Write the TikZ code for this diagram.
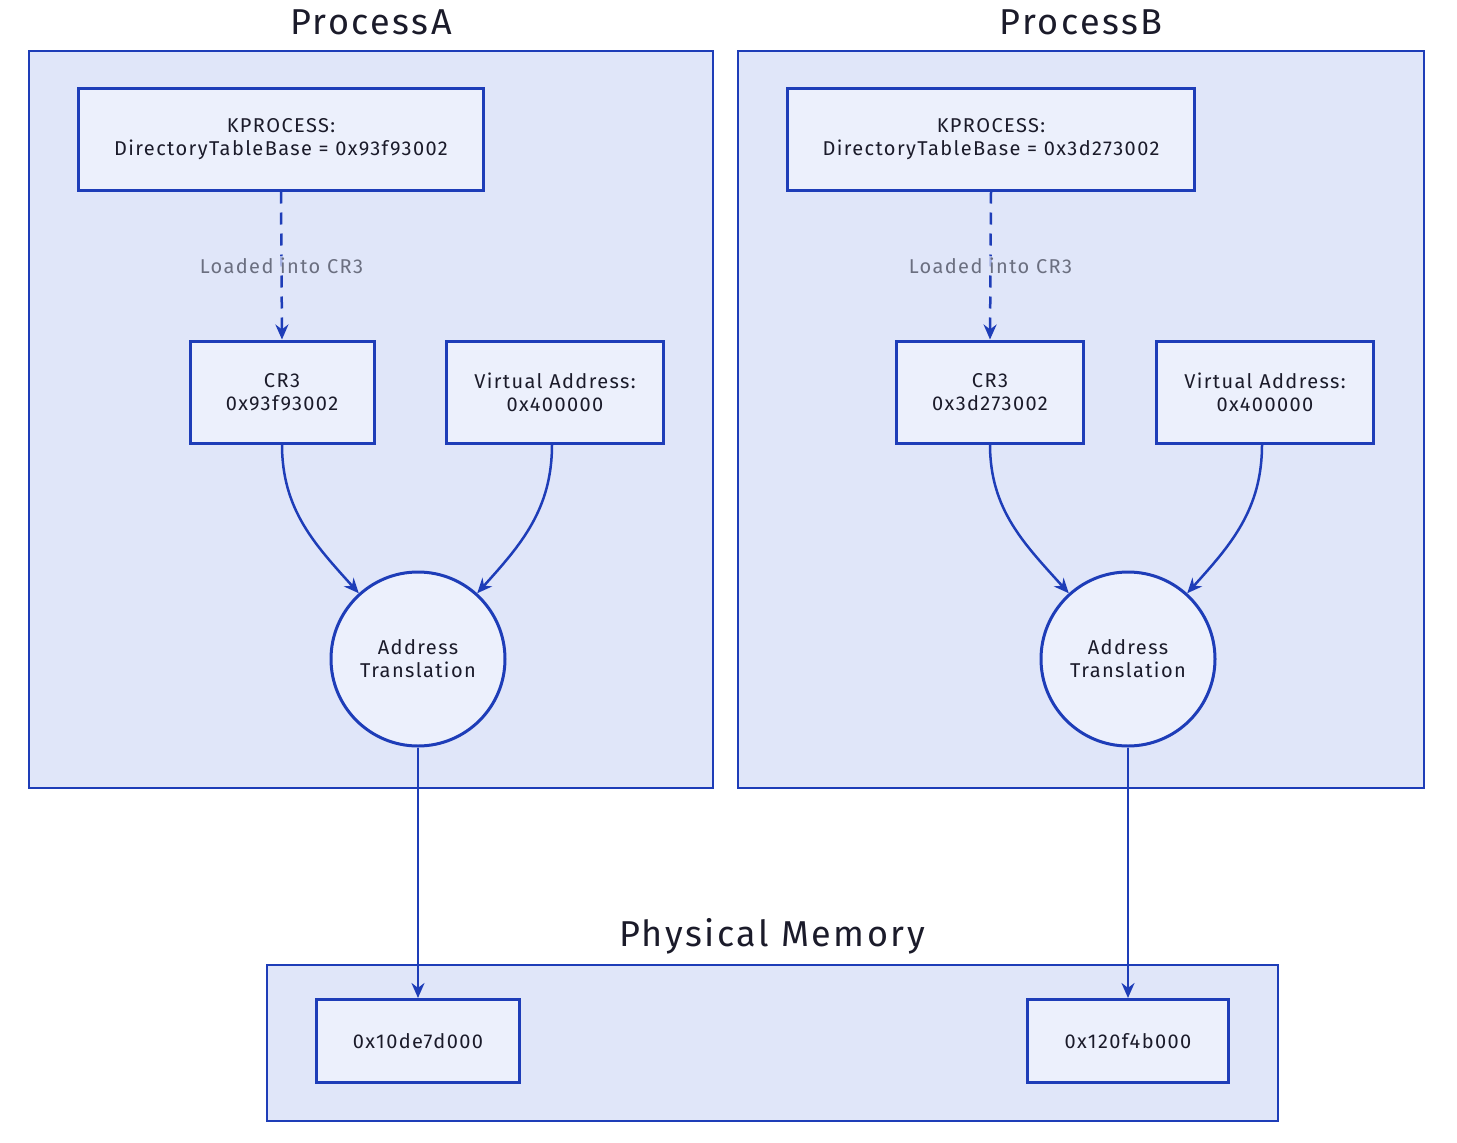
\documentclass[tikz,border=0pt]{standalone}
\usepackage{fontspec}
\setmainfont{Fira Sans}
\newfontfamily\wide{Fira Sans}[LetterSpace=7]
\usetikzlibrary{arrows.meta}
\definecolor{edge}{HTML}{1E3DB8}
\definecolor{contfill}{HTML}{E0E6F9}
\definecolor{boxfill}{HTML}{ECF0FC}
\definecolor{ink}{HTML}{1B1B2A}
\definecolor{lbl}{HTML}{6B6F80}
\tikzset{
  container/.style={draw=edge,fill=contfill,line width=2.5pt},
  box/.style={draw=edge,fill=boxfill,line width=3pt,text=ink,font=\wide\fontsize{20}{23}\selectfont,align=center,inner sep=0pt},
  roundnode/.style={circle,draw=edge,fill=boxfill,line width=3pt,text=ink,font=\wide\fontsize{20}{23}\selectfont,align=center,minimum size=174pt,inner sep=0pt},
  title/.style={text=ink,font=\wide\fontsize{36}{40}\selectfont,inner sep=0pt},
  conn/.style={draw=edge,line width=2.5pt,-{Stealth[length=15pt,width=13pt]}},
  dashconn/.style={conn,dash pattern=on 12pt off 9pt},
  elabel/.style={text=lbl,font=\wide\fontsize{20}{22}\selectfont,fill=contfill,fill opacity=0.7,text opacity=1,inner sep=2pt}
}
\begin{document}
\begin{tikzpicture}[x=1pt,y=-1pt]
\useasboundingbox (0,0) rectangle (1457,1143);
% containers
\draw[container] (29,51) rectangle (713,788);
\draw[container] (738,51) rectangle (1424,788);
\draw[container] (267,965) rectangle (1278,1121);
\node[title] (tA) at (371,22) {ProcessA};
\node[title] (tB) at (1081,22) {ProcessB};
\node[title] (tM) at (772,936) {Physical Memory};
% Process A
\node[box,minimum width=405pt,minimum height=102pt] (kA) at (281,139) {KPROCESS:\\DirectoryTableBase = 0x93f93002};
\node[box,minimum width=184pt,minimum height=102pt] (cA) at (282,392) {CR3\\0x93f93002};
\node[box,minimum width=217pt,minimum height=102pt] (vA) at (555,392) {Virtual Address:\\0x400000};
\node[roundnode] (tA2) at (418,659) {Address\\Translation};
% Process B
\node[box,minimum width=407pt,minimum height=102pt] (kB) at (991,139) {KPROCESS:\\DirectoryTableBase = 0x3d273002};
\node[box,minimum width=187pt,minimum height=102pt] (cB) at (990,392) {CR3\\0x3d273002};
\node[box,minimum width=217pt,minimum height=102pt] (vB) at (1265,392) {Virtual Address:\\0x400000};
\node[roundnode] (tB2) at (1128,659) {Address\\Translation};
% Physical memory
\node[box,minimum width=203pt,minimum height=83pt] (pA) at (418,1041) {0x10de7d000};
\node[box,minimum width=201pt,minimum height=83pt] (pB) at (1128,1041) {0x120f4b000};
% connectors
\draw[dashconn] (kA.south) -- node[elabel] {Loaded into CR3} (cA.north);
\draw[dashconn] (kB.south) -- node[elabel] {Loaded into CR3} (cB.north);
\draw[conn] (cA.south) to[out=-90,in=132] (tA2.132);
\draw[conn] (vA.south -| 552,0) to[out=-90,in=48] (tA2.48);
\draw[conn] (cB.south) to[out=-90,in=132] (tB2.132);
\draw[conn] (vB.south -| 1262,0) to[out=-90,in=48] (tB2.48);
\draw[conn] (tA2.south) -- (pA.north);
\draw[conn] (tB2.south) -- (pB.north);
\end{tikzpicture}
\end{document}
